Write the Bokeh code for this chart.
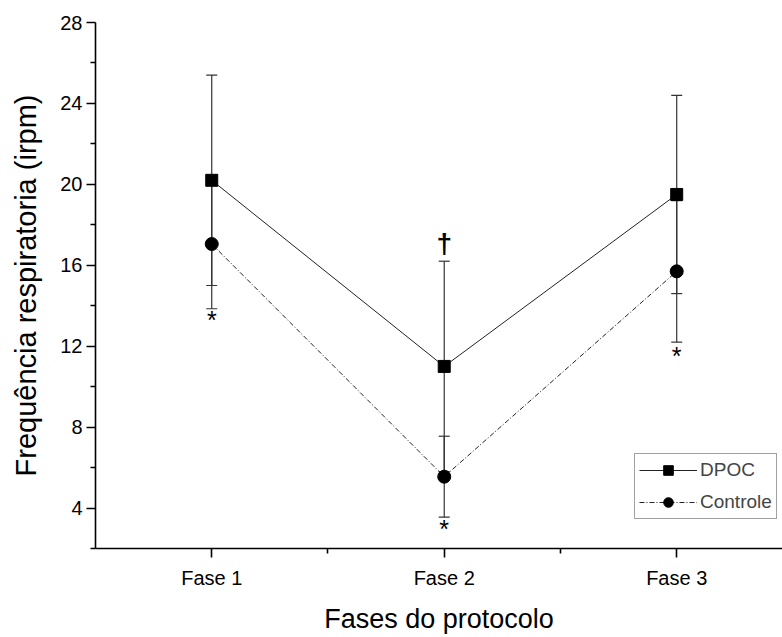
from bokeh.plotting import figure
from bokeh.models import (ColumnDataSource, Whisker, TeeHead, FixedTicker, Legend,
                          LegendItem, Range1d)
from bokeh.core.properties import value
from bokeh.embed import file_html
from bokeh.resources import INLINE

# ---- data ----
phases = ["Fase 1", "Fase 2", "Fase 3"]
dpoc_mean = [20.2, 11.0, 19.5]
dpoc_sd = [5.2, 5.2, 4.9]
ctrl_mean = [17.05, 5.55, 15.7]
ctrl_sd = [3.2, 2.0, 3.5]
# significance marks
star_y = [13.3, 2.95, 11.5]
dagger_phase = ["Fase 2"]
dagger_y = [17.1]
y_ticks = [4, 8, 12, 16, 20, 24, 28]
y_minor = [2, 6, 10, 14, 18, 22, 26]

xs = list(range(1, len(phases) + 1))
FONT = "Liberation Sans"

p = figure(width=782, height=636, output_backend="svg", toolbar_location=None,
           x_range=Range1d(0.5, 3.455), y_range=Range1d(2, 28),
           min_border_left=95, min_border_right=0, min_border_top=22,
           min_border_bottom=88)
p.outline_line_color = None
p.xgrid.visible = False
p.ygrid.visible = False
p.background_fill_color = "white"

dpoc_src = ColumnDataSource(dict(x=xs, y=dpoc_mean,
                                 lo=[m - s for m, s in zip(dpoc_mean, dpoc_sd)],
                                 hi=[m + s for m, s in zip(dpoc_mean, dpoc_sd)]))
ctrl_src = ColumnDataSource(dict(x=xs, y=ctrl_mean,
                                 lo=[m - s for m, s in zip(ctrl_mean, ctrl_sd)],
                                 hi=[m + s for m, s in zip(ctrl_mean, ctrl_sd)]))

for src in (dpoc_src, ctrl_src):
    w = Whisker(source=src, base="x", lower="lo", upper="hi",
                line_color="#333333", line_width=1.2,
                lower_head=TeeHead(size=11, line_color="#333333", line_width=1.2),
                upper_head=TeeHead(size=11, line_color="#333333", line_width=1.2))
    p.add_layout(w)

l1 = p.line("x", "y", source=dpoc_src, line_color="#222222", line_width=1)
l2 = p.line("x", "y", source=ctrl_src, line_color="#222222", line_width=1,
            line_dash="5 2 1 2")
s1 = p.scatter("x", "y", source=dpoc_src, marker="square", size=12,
               fill_color="black", line_color="black")
s2 = p.scatter("x", "y", source=ctrl_src, marker="circle", size=13,
               fill_color="black", line_color="black")

# significance annotations
p.text(x=xs, y=star_y, text=["*"] * len(xs), text_align="center",
       text_baseline="middle", text_font=value(FONT), text_font_size="25px",
       text_color="black")
p.text(x=[phases.index(ph) + 1 for ph in dagger_phase], y=dagger_y, text=["†"],
       text_align="center", text_baseline="middle", text_font=value(FONT),
       text_font_size="28px", text_font_style="bold", text_color="black")

legend = Legend(items=[LegendItem(label="DPOC", renderers=[l1, s1]),
                       LegendItem(label="Controle", renderers=[l2, s2])],
                location=(539, 29), orientation="vertical")
legend.label_text_font = FONT
legend.label_text_font_size = "19px"
legend.glyph_width = 58
legend.glyph_height = 24
legend.label_height = 24
legend.label_standoff = 3
legend.spacing = 8
legend.padding = 4
legend.margin = 0
legend.border_line_color = "#444444"
legend.border_line_width = 1
legend.background_fill_alpha = 1
p.add_layout(legend)

# axes
p.xaxis.ticker = FixedTicker(ticks=xs, minor_ticks=[1.5, 2.5])
p.xaxis.major_label_overrides = {x: ph for x, ph in zip(xs, phases)}
p.xaxis.axis_label = "Fases do protocolo"
p.yaxis.ticker = FixedTicker(ticks=y_ticks, minor_ticks=y_minor)
p.yaxis.axis_label = "Frequência respiratoria (irpm)"

for ax in (p.xaxis[0], p.yaxis[0]):
    ax.axis_line_color = "black"
    ax.axis_line_width = 1.6
    ax.major_tick_line_color = "black"
    ax.major_tick_line_width = 1.6
    ax.minor_tick_line_color = "black"
    ax.minor_tick_line_width = 1.6
    ax.major_tick_in = 0
    ax.minor_tick_in = 0
    ax.major_tick_out = 9
    ax.minor_tick_out = 5
    ax.major_label_text_font = FONT
    ax.major_label_text_font_size = "20px"
    ax.major_label_text_color = "black"
    ax.axis_label_text_font = FONT
    ax.axis_label_text_font_size = "27px"
    ax.axis_label_text_font_style = "normal"
    ax.axis_label_text_color = "black"

p.yaxis.axis_label_text_font_size = "29px"
p.xaxis.major_label_standoff = 9
p.xaxis.axis_label_standoff = 12
p.yaxis.major_label_standoff = 4
p.yaxis.axis_label_standoff = 15

open("out.html", "w").write(file_html(p, INLINE))
